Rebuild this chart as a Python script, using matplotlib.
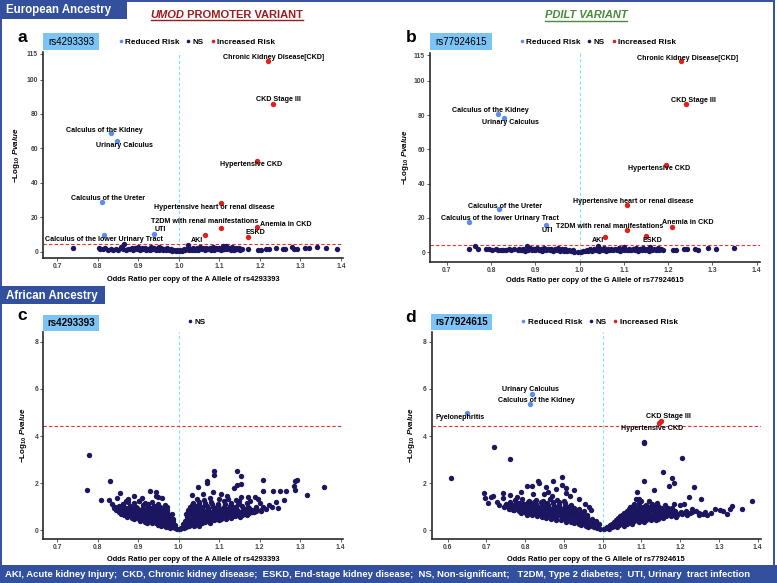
import matplotlib
matplotlib.use("Agg")
import matplotlib.pyplot as plt
from matplotlib.patches import Rectangle
from matplotlib.lines import Line2D
from matplotlib.ticker import FormatStrFormatter

plt.rcParams["font.family"] = ["Liberation Sans", "DejaVu Sans"]
plt.rcParams["mathtext.fontset"] = "custom"
plt.rcParams["mathtext.rm"] = "Liberation Sans:bold"
plt.rcParams["mathtext.bf"] = "Liberation Sans:bold"
plt.rcParams["mathtext.it"] = "Liberation Sans:bold:italic"

W, H = 777, 583
NS_COL = "#1c1660"
LOW_COL = "#5b8def"
HIGH_COL = "#e0201b"
BLUE = "#33509f"
THRESH = 4.41

# ---------------- data ----------------
# panel a: rs4293393, European
a_sig_names = ["Chronic Kidney Disease[CKD]", "CKD Stage III", "Calculus of the Kidney",
               "Urinary Calculus", "Hypertensive CKD", "Calculus of the Ureter",
               "Hypertensive heart or renal disease", "T2DM with renal manifestations",
               "Anemia in CKD", "ESKD", "UTI", "Calculus of the lower Urinary Tract", "AKI"]
a_sig_or = [1.220, 1.232, 0.832, 0.848, 1.194, 0.811, 1.103, 1.105, 1.193, 1.171, 0.939, 0.815, 1.064]
a_sig_p = [110.9, 85.9, 68.8, 64.4, 52.9, 29.1, 28.5, 14.0, 14.5, 8.7, 10.3, 9.7, 9.5]
a_ns = [(0.738, 2.3), (0.802, 2.4), (0.806, 1.8), (0.812, 1.5), (0.818, 2.0), (0.825, 1.2),
        (0.832, 1.4), (0.838, 1.0), (0.845, 1.3), (0.851, 1.1), (0.858, 2.6), (0.862, 1.5),
        (0.866, 4.3), (0.870, 1.2), (0.875, 1.8),
        (0.880, 1.3), (0.888, 1.0), (0.896, 1.4), (0.904, 1.1), (0.912, 1.5), (0.920, 1.2),
        (0.928, 1.0), (0.936, 1.3), (0.944, 1.1), (0.952, 0.9), (0.960, 1.2), (0.968, 0.8),
        (0.976, 0.7), (0.984, 0.6), (0.992, 0.4), (1.000, 0.2), (1.008, 0.4), (1.016, 0.7),
        (1.024, 0.9), (1.032, 1.0), (1.040, 1.2), (1.048, 0.9), (1.056, 1.3), (1.064, 1.1),
        (1.072, 1.4), (1.080, 1.0), (1.088, 1.2), (1.096, 1.5), (1.104, 1.1), (1.112, 1.3),
        (1.120, 1.6), (1.128, 1.2), (1.136, 1.0), (1.144, 1.4), (1.152, 1.1),
        (0.884, 2.2), (0.892, 1.9), (0.900, 2.5), (0.908, 2.0), (0.916, 2.3), (0.924, 1.8),
        (0.932, 2.6), (0.940, 2.1), (0.948, 1.9), (0.956, 2.4), (0.964, 1.7), (0.972, 2.0),
        (0.980, 1.5), (0.996, 1.2), (1.012, 1.4), (1.028, 1.8), (1.036, 2.2), (1.044, 1.9),
        (1.052, 2.5), (1.060, 2.0), (1.068, 2.3), (1.076, 1.9), (1.084, 2.8), (1.092, 2.1),
        (1.100, 2.4), (1.108, 1.8), (1.116, 3.1), (1.124, 2.2), (1.132, 2.6), (1.140, 1.9),
        (1.148, 2.3), (1.156, 1.6), (1.022, 3.6), (1.110, 3.4), (0.950, 3.0),
        (0.886, 1.6), (0.902, 1.7), (0.918, 1.6), (0.934, 1.8), (0.958, 1.5), (0.988, 1.0),
        (1.004, 0.8), (1.020, 1.3), (1.050, 1.6), (1.066, 1.7), (1.082, 1.5), (1.098, 1.8),
        (1.114, 1.6), (1.130, 1.7), (1.146, 1.6),
        (1.170, 1.4), (1.195, 0.9), (1.202, 1.1), (1.214, 1.6), (1.222, 1.8), (1.240, 2.0),
        (1.258, 1.8), (1.262, 1.4), (1.278, 2.9), (1.284, 1.8), (1.292, 1.4), (1.312, 2.0),
        (1.320, 2.3), (1.342, 2.8), (1.364, 2.0), (1.390, 1.4)]

# panel b: rs77924615, European
b_sig_names = ["Chronic Kidney Disease[CKD]", "CKD Stage III", "Calculus of the Kidney",
               "Urinary Calculus", "Hypertensive CKD", "Calculus of the Ureter",
               "Hypertensive heart or renal disease", "Calculus of the lower Urinary Tract",
               "UTI", "T2DM with renal manifestations", "Anemia in CKD", "AKI", "ESKD"]
b_sig_or = [1.228, 1.241, 0.815, 0.830, 1.196, 0.817, 1.106, 0.749, 0.923, 1.106, 1.209, 1.058, 1.150]
b_sig_p = [111.4, 86.4, 80.6, 78.4, 50.9, 25.1, 27.6, 17.5, 15.7, 13.0, 14.9, 9.1, 9.7]
b_ns = [(0.749, 2.1), (0.763, 3.7), (0.771, 2.0), (0.788, 1.7), (0.795, 1.8), (0.803, 1.5),
        (0.810, 1.9), (0.816, 1.3), (0.822, 1.6), (0.828, 1.2), (0.834, 1.5), (0.840, 1.9),
        (0.846, 1.4), (0.852, 2.2),
        (0.860, 1.2), (0.868, 1.4), (0.876, 1.0), (0.884, 1.3), (0.892, 1.1), (0.900, 1.5),
        (0.908, 1.2), (0.916, 1.0), (0.924, 1.3), (0.932, 1.1), (0.940, 0.9), (0.948, 1.2),
        (0.956, 0.8), (0.964, 1.0), (0.972, 0.7), (0.980, 0.6), (0.988, 0.4), (0.996, 0.3),
        (1.004, 0.3), (1.012, 0.5), (1.020, 0.7), (1.028, 0.9), (1.036, 1.1), (1.044, 0.9),
        (1.052, 1.2), (1.060, 1.0), (1.068, 1.3), (1.076, 1.1), (1.084, 1.4), (1.092, 1.0),
        (1.100, 1.2), (1.108, 1.5), (1.116, 1.1), (1.124, 1.3), (1.132, 1.0), (1.140, 1.4),
        (1.148, 1.2), (1.156, 1.0), (1.164, 1.3), (1.172, 1.1), (1.180, 1.4), (1.188, 1.2),
        (0.864, 2.1), (0.872, 1.8), (0.881, 3.8), (0.888, 2.3), (0.896, 1.9), (0.904, 2.4),
        (0.912, 2.0), (0.920, 2.6), (0.928, 1.8), (0.936, 2.2), (0.944, 1.9), (0.952, 2.4),
        (0.960, 1.7), (0.968, 2.0), (0.976, 1.6), (0.984, 1.3), (1.016, 1.5), (1.024, 1.8),
        (1.032, 2.1), (1.042, 3.8), (1.048, 2.0), (1.056, 2.4), (1.064, 1.9), (1.072, 2.2),
        (1.080, 1.8), (1.088, 2.5), (1.096, 2.0), (1.100, 3.0), (1.112, 2.2), (1.120, 1.9),
        (1.128, 2.4), (1.136, 2.0), (1.144, 2.3), (1.152, 1.8), (1.160, 3.2), (1.168, 2.1),
        (1.176, 2.4), (1.184, 1.9),
        (0.870, 1.6), (0.894, 1.7), (0.918, 1.6), (0.942, 1.5), (0.966, 1.3), (1.008, 1.0),
        (1.040, 1.5), (1.064, 1.6), (1.088, 1.7), (1.112, 1.6), (1.136, 1.7), (1.160, 1.6),
        (1.212, 1.6), (1.218, 1.4), (1.235, 1.9), (1.243, 2.0), (1.261, 1.7), (1.268, 1.5),
        (1.290, 2.6), (1.308, 1.8), (1.348, 2.6)]

# panel c: rs4293393, African (no significant phenotypes)
c_ns = [(0.778, 3.19), (0.774, 1.70), (0.831, 2.10), (0.807, 1.28), (0.827, 1.28), (0.848, 1.35),
        (0.856, 1.59), (0.870, 1.24), (0.889, 1.43), (0.902, 1.22), (0.928, 1.67), (0.945, 1.62),
        (0.943, 1.43), (0.959, 1.35), (0.835, 1.12), (0.840, 1.00), (0.862, 1.12), (0.876, 1.30),
        (0.910, 1.38), (0.950, 1.40), (0.925, 1.10), (0.966, 1.05), (0.972, 0.85), (0.983, 0.70),
        (0.992, 0.08), (0.997, 0.03), (0.986, 0.12), (1.003, 0.04),
        (0.968, 0.14), (0.979, 0.10), (0.956, 0.16),
        (0.950, 0.22), (0.962, 0.20), (0.973, 0.25), (0.981, 0.18), (0.990, 0.22),
        (0.933, 0.30), (0.945, 0.29), (0.957, 0.31), (0.969, 0.28), (0.981, 0.30), (0.922, 0.32),
        (0.905, 0.38), (0.917, 0.36), (0.928, 0.42), (0.939, 0.37), (0.951, 0.41), (0.963, 0.36),
        (0.975, 0.43), (0.986, 0.38),
        (0.890, 0.46), (0.902, 0.48), (0.914, 0.45), (0.926, 0.49), (0.938, 0.46), (0.950, 0.48),
        (0.962, 0.45), (0.974, 0.49), (0.985, 0.46),
        (0.872, 0.55), (0.884, 0.52), (0.896, 0.58), (0.908, 0.54), (0.920, 0.59), (0.932, 0.53),
        (0.944, 0.57), (0.956, 0.55), (0.968, 0.60), (0.980, 0.52),
        (0.864, 0.62), (0.876, 0.64), (0.888, 0.61), (0.900, 0.65), (0.912, 0.62), (0.924, 0.64),
        (0.936, 0.61), (0.948, 0.65), (0.960, 0.62), (0.972, 0.64),
        (0.858, 0.70), (0.869, 0.73), (0.881, 0.68), (0.893, 0.74), (0.905, 0.69), (0.917, 0.72),
        (0.929, 0.67), (0.941, 0.75), (0.953, 0.70), (0.965, 0.72), (0.977, 0.66),
        (0.852, 0.77), (0.863, 0.79), (0.875, 0.76), (0.887, 0.80), (0.899, 0.77), (0.911, 0.79),
        (0.923, 0.76), (0.935, 0.80), (0.947, 0.77), (0.959, 0.79), (0.970, 0.76),
        (0.846, 0.86), (0.857, 0.83), (0.868, 0.88), (0.880, 0.84), (0.892, 0.89), (0.904, 0.83),
        (0.916, 0.87), (0.928, 0.85), (0.940, 0.90), (0.952, 0.84), (0.964, 0.88),
        (0.840, 0.92), (0.851, 0.94), (0.862, 0.91), (0.874, 0.95), (0.886, 0.92), (0.898, 0.94),
        (0.910, 0.91), (0.922, 0.95), (0.934, 0.92), (0.946, 0.94), (0.958, 0.91),
        (0.842, 1.00), (0.853, 1.04), (0.866, 0.98), (0.879, 1.02), (0.895, 0.99), (0.912, 1.05),
        (0.926, 0.98), (0.938, 1.03), (0.955, 1.00), (0.970, 0.97),
        (0.862, 1.12), (0.876, 1.18), (0.889, 1.15), (0.902, 1.22), (0.918, 1.14), (0.935, 1.19),
        (0.950, 1.12),
        (1.006, 0.10), (1.012, 0.07), (1.018, 0.14),
        (1.014, 0.18), (1.026, 0.16), (1.038, 0.19), (1.050, 0.17),
        (1.010, 0.25), (1.022, 0.22), (1.034, 0.27), (1.046, 0.24), (1.058, 0.28),
        (1.018, 0.32), (1.030, 0.31), (1.042, 0.33), (1.054, 0.31), (1.066, 0.33), (1.078, 0.32),
        (1.015, 0.40), (1.027, 0.37), (1.039, 0.42), (1.051, 0.38), (1.063, 0.43), (1.075, 0.39),
        (1.087, 0.41), (1.099, 0.44),
        (1.021, 0.47), (1.033, 0.46), (1.045, 0.48), (1.057, 0.46), (1.069, 0.49), (1.081, 0.47),
        (1.093, 0.48), (1.105, 0.46), (1.117, 0.49), (1.129, 0.50),
        (1.020, 0.55), (1.032, 0.52), (1.044, 0.57), (1.056, 0.53), (1.068, 0.58), (1.080, 0.54),
        (1.092, 0.57), (1.104, 0.52), (1.116, 0.58), (1.128, 0.55), (1.140, 0.59), (1.152, 0.56),
        (1.024, 0.62), (1.036, 0.63), (1.048, 0.61), (1.060, 0.64), (1.072, 0.62), (1.084, 0.63),
        (1.096, 0.61), (1.108, 0.64), (1.120, 0.62), (1.132, 0.63), (1.144, 0.64), (1.156, 0.62),
        (1.168, 0.65),
        (1.018, 0.70), (1.030, 0.73), (1.042, 0.68), (1.054, 0.72), (1.066, 0.69), (1.078, 0.74),
        (1.090, 0.70), (1.102, 0.73), (1.114, 0.68), (1.126, 0.72), (1.138, 0.70), (1.150, 0.74),
        (1.162, 0.69), (1.174, 0.72), (1.186, 0.76),
        (1.024, 0.78), (1.036, 0.77), (1.048, 0.79), (1.060, 0.78), (1.072, 0.80), (1.084, 0.77),
        (1.096, 0.79), (1.108, 0.78), (1.120, 0.80), (1.132, 0.77), (1.144, 0.79), (1.156, 0.78),
        (1.168, 0.80), (1.180, 0.78), (1.192, 0.81), (1.204, 0.80),
        (1.024, 0.86), (1.036, 0.83), (1.048, 0.88), (1.060, 0.84), (1.072, 0.87), (1.084, 0.83),
        (1.096, 0.89), (1.108, 0.85), (1.120, 0.88), (1.132, 0.84), (1.144, 0.87), (1.156, 0.83),
        (1.168, 0.88), (1.180, 0.85), (1.192, 0.89), (1.204, 0.86), (1.216, 0.90),
        (1.030, 0.93), (1.044, 0.95), (1.058, 0.92), (1.072, 0.94), (1.086, 0.93), (1.100, 0.95),
        (1.114, 0.92), (1.128, 0.94), (1.142, 0.93), (1.158, 0.95), (1.174, 0.92), (1.190, 0.94),
        (1.028, 1.00), (1.042, 1.04), (1.056, 0.98), (1.070, 1.03), (1.084, 0.99), (1.098, 1.05),
        (1.112, 1.00), (1.126, 1.03), (1.140, 0.98), (1.156, 1.02), (1.172, 0.97), (1.190, 1.00),
        (1.208, 0.96),
        (1.034, 1.08), (1.050, 1.10), (1.066, 1.07), (1.082, 1.09), (1.098, 1.08), (1.114, 1.10),
        (1.130, 1.07), (1.146, 1.09),
        (1.035, 1.15), (1.050, 1.20), (1.064, 1.13), (1.080, 1.18), (1.096, 1.12), (1.112, 1.22),
        (1.130, 1.15), (1.150, 1.10), (1.168, 1.17),
        (1.045, 1.32), (1.062, 1.28), (1.078, 1.36), (1.100, 1.30), (1.122, 1.34), (1.142, 1.27),
        (1.034, 1.49), (1.048, 1.85), (1.071, 2.02), (1.069, 2.10), (1.088, 2.52), (1.088, 2.34),
        (1.143, 2.52), (1.153, 2.31), (1.136, 1.80), (1.145, 1.90), (1.153, 1.98), (1.170, 1.42),
        (1.189, 1.42), (1.153, 1.40), (1.149, 1.24), (1.209, 2.13), (1.209, 1.66), (1.232, 1.65),
        (1.249, 1.65), (1.264, 1.65), (1.260, 1.28), (1.240, 1.20), (1.222, 1.05), (1.286, 2.08),
        (1.293, 2.15), (1.284, 1.87), (1.286, 1.70), (1.316, 1.48), (1.358, 1.84), (1.195, 1.30),
        (1.176, 1.25), (1.085, 1.60), (1.105, 1.55), (1.120, 1.45), (1.060, 1.55), (1.230, 1.00),
        (1.246, 0.95), (1.200, 1.15)]

# panel d: rs77924615, African
d_sig_names = ["Urinary Calculus", "Calculus of the Kidney", "Pyelonephritis",
               "CKD Stage III", "Hypertensive CKD"]
d_sig_or = [0.819, 0.812, 0.649, 1.152, 1.146]
d_sig_p = [5.80, 5.36, 4.99, 4.64, 4.57]
d_ns = [(0.610, 2.23), (0.720, 3.55), (0.761, 3.04), (0.694, 1.56), (0.697, 1.35), (0.705, 1.16),
        (0.713, 1.41), (0.728, 1.20), (0.742, 1.56), (0.744, 1.35), (0.716, 1.45), (0.733, 1.05),
        (0.804, 1.87), (0.817, 1.87), (0.834, 2.10), (0.837, 2.02), (0.873, 2.10), (0.894, 2.27),
        (0.894, 1.91), (0.926, 1.70), (0.855, 1.85), (0.880, 1.75), (0.905, 1.80), (0.760, 1.50),
        (0.790, 1.62), (0.820, 1.52), (0.850, 1.55), (0.870, 1.45), (0.915, 1.45), (0.940, 1.30),
        (0.955, 1.10), (0.965, 1.00), (0.970, 0.85), (0.780, 1.40), (0.860, 1.60), (0.905, 1.58),
        (0.985, 0.08), (0.993, 0.05), (0.978, 0.12),
        (0.962, 0.14), (0.973, 0.16), (0.986, 0.13),
        (0.945, 0.20), (0.957, 0.18), (0.969, 0.22), (0.981, 0.19), (0.991, 0.24),
        (0.925, 0.28), (0.938, 0.27), (0.951, 0.29), (0.964, 0.27), (0.977, 0.29), (0.988, 0.27),
        (0.905, 0.36), (0.918, 0.33), (0.931, 0.37), (0.944, 0.34), (0.957, 0.38), (0.970, 0.33),
        (0.983, 0.37),
        (0.880, 0.43), (0.893, 0.42), (0.906, 0.44), (0.919, 0.42), (0.932, 0.44), (0.945, 0.42),
        (0.958, 0.44), (0.971, 0.43),
        (0.855, 0.52), (0.868, 0.49), (0.881, 0.53), (0.894, 0.50), (0.907, 0.54), (0.920, 0.48),
        (0.933, 0.52), (0.946, 0.50), (0.959, 0.54), (0.972, 0.49),
        (0.830, 0.58), (0.843, 0.57), (0.856, 0.59), (0.869, 0.57), (0.882, 0.59), (0.895, 0.58),
        (0.908, 0.57), (0.921, 0.59), (0.934, 0.57), (0.947, 0.59), (0.960, 0.58),
        (0.805, 0.66), (0.818, 0.63), (0.831, 0.67), (0.844, 0.64), (0.857, 0.68), (0.870, 0.63),
        (0.883, 0.66), (0.896, 0.69), (0.909, 0.64), (0.922, 0.67), (0.935, 0.63), (0.948, 0.68),
        (0.961, 0.65),
        (0.790, 0.73), (0.803, 0.72), (0.816, 0.74), (0.829, 0.72), (0.842, 0.74), (0.855, 0.73),
        (0.868, 0.72), (0.881, 0.74), (0.894, 0.72), (0.907, 0.74), (0.920, 0.73), (0.933, 0.72),
        (0.946, 0.74),
        (0.770, 0.84), (0.783, 0.80), (0.796, 0.83), (0.809, 0.79), (0.822, 0.82), (0.835, 0.78),
        (0.848, 0.83), (0.861, 0.80), (0.874, 0.84), (0.887, 0.79), (0.900, 0.82), (0.913, 0.80),
        (0.926, 0.84), (0.939, 0.79), (0.952, 0.81),
        (0.758, 0.88), (0.771, 0.87), (0.784, 0.89), (0.797, 0.87), (0.810, 0.89), (0.823, 0.88),
        (0.836, 0.87), (0.849, 0.89), (0.862, 0.87), (0.875, 0.89), (0.888, 0.88), (0.901, 0.87),
        (0.914, 0.89), (0.927, 0.88),
        (0.745, 0.97), (0.758, 0.93), (0.771, 0.98), (0.784, 0.94), (0.797, 0.96), (0.810, 0.92),
        (0.823, 0.97), (0.836, 0.94), (0.849, 0.98), (0.862, 0.93), (0.875, 0.96), (0.888, 0.99),
        (0.901, 0.94), (0.914, 0.97), (0.927, 0.93), (0.940, 0.90),
        (0.748, 1.03), (0.762, 1.02), (0.776, 1.04), (0.790, 1.02), (0.804, 1.04), (0.818, 1.03),
        (0.832, 1.02), (0.846, 1.04), (0.860, 1.02), (0.874, 1.04), (0.888, 1.03), (0.902, 1.02),
        (0.916, 1.04),
        (0.752, 1.12), (0.768, 1.08), (0.783, 1.13), (0.798, 1.09), (0.813, 1.14), (0.828, 1.10),
        (0.843, 1.12), (0.858, 1.08), (0.873, 1.13), (0.888, 1.10), (0.903, 1.15), (0.918, 1.08),
        (0.760, 1.18), (0.776, 1.19), (0.792, 1.17), (0.808, 1.19), (0.824, 1.18), (0.840, 1.19),
        (0.856, 1.17), (0.872, 1.19), (0.888, 1.18),
        (0.775, 1.26), (0.792, 1.30), (0.810, 1.24), (0.828, 1.28), (0.846, 1.25), (0.864, 1.31),
        (0.882, 1.26), (0.900, 1.22),
        (1.004, 0.06), (1.010, 0.10), (1.016, 0.05),
        (1.012, 0.14), (1.024, 0.12), (1.036, 0.13),
        (1.018, 0.20), (1.030, 0.18), (1.042, 0.22), (1.054, 0.19),
        (1.024, 0.27), (1.037, 0.26), (1.050, 0.28), (1.063, 0.26), (1.076, 0.27),
        (1.030, 0.35), (1.043, 0.33), (1.056, 0.37), (1.069, 0.34), (1.082, 0.38), (1.095, 0.33),
        (1.108, 0.36),
        (1.035, 0.43), (1.048, 0.42), (1.061, 0.44), (1.074, 0.42), (1.087, 0.44), (1.100, 0.43),
        (1.113, 0.42), (1.126, 0.44), (1.139, 0.43),
        (1.040, 0.50), (1.053, 0.53), (1.066, 0.48), (1.079, 0.52), (1.092, 0.49), (1.105, 0.53),
        (1.118, 0.50), (1.131, 0.54), (1.144, 0.49), (1.157, 0.52),
        (1.046, 0.58), (1.059, 0.57), (1.072, 0.59), (1.085, 0.57), (1.098, 0.59), (1.111, 0.58),
        (1.124, 0.57), (1.137, 0.59), (1.150, 0.57), (1.163, 0.59), (1.176, 0.58), (1.189, 0.57),
        (1.050, 0.66), (1.063, 0.63), (1.076, 0.68), (1.089, 0.64), (1.102, 0.67), (1.115, 0.62),
        (1.128, 0.66), (1.141, 0.69), (1.154, 0.64), (1.167, 0.67), (1.180, 0.63), (1.193, 0.66),
        (1.206, 0.69), (1.219, 0.64),
        (1.056, 0.73), (1.069, 0.72), (1.082, 0.74), (1.095, 0.72), (1.108, 0.74), (1.121, 0.73),
        (1.134, 0.72), (1.147, 0.74), (1.160, 0.72), (1.173, 0.74), (1.186, 0.73), (1.199, 0.72),
        (1.212, 0.74), (1.225, 0.72),
        (1.062, 0.80), (1.076, 0.83), (1.090, 0.79), (1.104, 0.82), (1.118, 0.78), (1.132, 0.83),
        (1.146, 0.80), (1.160, 0.84), (1.174, 0.79), (1.188, 0.82), (1.202, 0.78), (1.216, 0.81),
        (1.232, 0.76), (1.248, 0.72),
        (1.068, 0.88), (1.082, 0.87), (1.096, 0.89), (1.110, 0.87), (1.124, 0.89), (1.138, 0.88),
        (1.152, 0.87), (1.166, 0.89), (1.180, 0.87),
        (1.072, 0.96), (1.088, 0.93), (1.104, 0.98), (1.120, 0.94), (1.136, 0.97), (1.152, 0.92),
        (1.170, 0.95),
        (1.078, 1.03), (1.094, 1.04), (1.110, 1.02), (1.126, 1.04), (1.142, 1.02),
        (1.080, 1.10), (1.095, 1.14), (1.112, 1.08), (1.128, 1.12),
        (1.107, 3.76), (1.106, 3.72), (1.107, 2.10), (1.205, 3.05), (1.155, 2.48), (1.178, 2.23),
        (1.184, 2.02), (1.172, 1.87), (1.132, 1.70), (1.088, 1.63), (1.236, 1.82), (1.223, 1.41),
        (1.253, 1.31), (1.385, 1.23), (1.361, 0.91), (1.333, 1.03), (1.328, 0.90), (1.320, 0.68),
        (1.303, 0.85), (1.290, 0.90), (1.270, 0.62), (1.260, 0.70), (1.250, 0.65), (1.240, 0.80),
        (1.230, 0.90), (1.200, 1.05), (1.185, 1.10), (1.160, 1.08), (1.140, 1.15), (1.120, 1.25),
        (1.095, 1.30), (1.085, 1.32), (1.100, 1.25), (1.180, 0.95), (1.210, 1.12), (1.265, 0.75),
        (1.280, 0.72), (1.310, 0.80)]

# label offsets (pixels, right / up) for the annotated phenotypes
a_offsets = [(6, 3), (6, 4), (-6, 3), (7, -5), (-6, -4), (6, 3), (-6, -5), (-17, 6), (29, 2),
             (7, 4), (6, 4), (0, -5), (-8, -5)]
b_offsets = [(7, 3), (7, 4), (-7, 4), (6, -5), (-7, -4), (6, 3), (7, 3), (31, 4), (2, -5),
             (-17, 4), (16, 4), (-7, -4), (6, -5)]
d_offsets = [(-2, 4), (7, 4), (-7, -5), (7, 4), (-7, -6)]

# ---------------- figure ----------------
fig = plt.figure(figsize=(W / 100, H / 100), dpi=100)


def fig_xy(x, y):
    return x / W, 1 - y / H


def add_axes(x0, y0, x1, y1):
    return fig.add_axes([x0 / W, 1 - y1 / H, (x1 - x0) / W, (y1 - y0) / H])


def draw_panel(ax, ns, names, ors, ps, offsets, xlim, ylim, xticks, yticks, xlabel,
               ylab_x, xlab_y):
    ax.scatter([p[0] for p in ns], [p[1] for p in ns], s=15, c=NS_COL, lw=0, zorder=3)
    for name, o, p, (dx, dy) in zip(names, ors, ps, offsets):
        col = LOW_COL if o < 1 else HIGH_COL
        ax.scatter([o], [p], s=15, c=col, lw=0, zorder=4)
        ax.annotate(name, (o, p), xytext=(dx, dy), textcoords="offset pixels",
                    ha="center", va="center", fontsize=5.1, fontweight="bold", zorder=5)
    ax.axvline(1.0, color="#7fe6f2", lw=0.8, ls=(0, (3, 2)), zorder=1)
    ax.axhline(THRESH, color="#e8312f", lw=0.8, ls=(0, (3, 2)), zorder=1)
    ax.set_xlim(*xlim)
    ax.set_ylim(*ylim)
    ax.set_xticks(xticks)
    ax.set_yticks(yticks)
    ax.xaxis.set_major_formatter(FormatStrFormatter("%.1f"))
    for s in ("top", "right"):
        ax.spines[s].set_visible(False)
    for s in ("left", "bottom"):
        ax.spines[s].set_color("#2a2a2a")
        ax.spines[s].set_linewidth(1.2)
    ax.tick_params(length=2, width=0.6, color="#444444", labelsize=4.9,
                   labelcolor="#444444", pad=1.5)
    for lab in ax.get_xticklabels() + ax.get_yticklabels():
        lab.set_fontweight("bold")
    ax.set_xlabel(xlabel, fontsize=5.4, fontweight="bold")
    ax.xaxis.set_label_coords(0.5, xlab_y)
    ax.set_ylabel(r"$\mathbf{-Log_{10}}$ $\mathit{Pvalue}$", fontsize=5.8)
    ax.yaxis.set_label_coords(ylab_x, 0.5)


def legend(ax, cx, cy, items):
    handles = [Line2D([], [], ls="none", marker="o", ms=2.6, mfc=c, mec="none", label=t)
               for t, c in items]
    ax.legend(handles=handles, loc="center", bbox_to_anchor=fig_xy(cx, cy),
              bbox_transform=fig.transFigure, ncol=len(items), frameon=False,
              handletextpad=0.05, columnspacing=0.55, handlelength=1.0,
              prop={"size": 5.9, "weight": "bold"}, borderpad=0)


def rs_box(x0, y0, x1, y1, text, weight):
    fig.patches.append(Rectangle(fig_xy(x0, y1), (x1 - x0) / W, (y1 - y0) / H,
                                 transform=fig.transFigure, facecolor="#7cc3f6",
                                 edgecolor="none", zorder=5))
    fig.text(*fig_xy((x0 + x1) / 2, (y0 + y1) / 2), text, ha="center", va="center",
             fontsize=7, fontweight=weight, zorder=6)


items3 = [("Reduced Risk", LOW_COL), ("NS", NS_COL), ("Increased Risk", HIGH_COL)]

ax_a = add_axes(43, 52, 343, 257.7)
draw_panel(ax_a, a_ns, a_sig_names, a_sig_or, a_sig_p, a_offsets, (0.665, 1.405), (-3.5, 116),
           [0.7, 0.8, 0.9, 1.0, 1.1, 1.2, 1.3, 1.4], [0, 20, 40, 60, 80, 100, 115],
           "Odds Ratio per copy of the A Allele of rs4293393", -0.07, -0.09)
legend(ax_a, 196, 41.7, items3)

ax_b = add_axes(430, 53.3, 760, 262)
draw_panel(ax_b, b_ns, b_sig_names, b_sig_or, b_sig_p, b_offsets, (0.662, 1.4075), (-5.65, 116),
           [0.7, 0.8, 0.9, 1.0, 1.1, 1.2, 1.3, 1.4], [0, 20, 40, 60, 80, 100, 115],
           "Odds Ratio per copy of the G Allele of rs77924615", -0.058, -0.072)
legend(ax_b, 597, 42, items3)

ax_c = add_axes(43, 332.3, 342.7, 539)
draw_panel(ax_c, c_ns, [], [], [], [], (0.665, 1.405), (-0.38, 8.41),
           [0.7, 0.8, 0.9, 1.0, 1.1, 1.2, 1.3, 1.4], [0, 2, 4, 6, 8],
           "Odds Ratio per copy of the A Allele of rs4293393", -0.047, -0.082)
legend(ax_c, 196, 321.7, [("NS", NS_COL)])

ax_d = add_axes(431.7, 332.3, 760.7, 539)
draw_panel(ax_d, d_ns, d_sig_names, d_sig_or, d_sig_p, d_offsets, (0.559, 1.408), (-0.38, 8.41),
           [0.6, 0.7, 0.8, 0.9, 1.0, 1.1, 1.2, 1.3, 1.4], [0, 2, 4, 6, 8],
           "Odds Ratio per copy of the G Allele of rs77924615", -0.046, -0.082)
legend(ax_d, 598.5, 321.7, items3)

rs_box(42.7, 33.3, 99.3, 50, "rs4293393", "normal")
rs_box(430, 33.3, 491.7, 50, "rs77924615", "normal")
rs_box(42.7, 315, 99.3, 331, "rs4293393", "bold")
rs_box(430.7, 314.3, 491.7, 330, "rs77924615", "bold")

for letter, (x, y) in zip("abcd", [(22, 37), (410.7, 38), (22, 316), (410.7, 317)]):
    fig.text(*fig_xy(x, y), letter, ha="center", va="center", fontsize=12.5, fontweight="bold")

# outer frame, header boxes, footer
fig.patches.append(Rectangle((0.7 / W, 1 - 571 / H), 773.5 / W, 570 / H,
                             transform=fig.transFigure, facecolor="none",
                             edgecolor=BLUE, lw=1.4, zorder=1))
for (x1, y0, y1, txt) in [(127, 0, 19, "European Ancestry"), (105, 286, 304, "African Ancestry")]:
    fig.patches.append(Rectangle(fig_xy(0, y1), x1 / W, (y1 - y0) / H,
                                 transform=fig.transFigure, facecolor=BLUE,
                                 edgecolor="none", zorder=5))
    fig.text(*fig_xy(6, (y0 + y1) / 2 + 0.5), txt, ha="left", va="center", fontsize=8.3,
             fontweight="bold", color="white", zorder=6)
fig.patches.append(Rectangle((0, 0), 1, 18 / H, transform=fig.transFigure,
                             facecolor=BLUE, edgecolor="none", zorder=5))
fig.text(*fig_xy(5, 574.5), "AKI, Acute kidney Injury;  CKD, Chronic kidney disease;  "
         "ESKD, End-stage kidney disease;  NS, Non-significant;   T2DM, Type 2 diabetes;  "
         "UTI, Urinary  tract infection", ha="left", va="center", fontsize=6.8,
         fontweight="bold", color="white", zorder=6)

# titles with underline
renderer = fig.canvas.get_renderer()


def title(cx, cy, parts, color):
    texts = []
    for txt, style in parts:
        texts.append(fig.text(0, 0, txt, fontsize=8, fontweight="bold", style=style,
                              color=color, va="center", ha="left"))
    widths = [t.get_window_extent(renderer).width for t in texts]
    x = cx - sum(widths) / 2
    for t, w in zip(texts, widths):
        t.set_position(fig_xy(x, cy))
        x += w
    x0 = cx - sum(widths) / 2
    fig.add_artist(Line2D([x0 / W, (x0 + sum(widths)) / W], [fig_xy(0, cy + 5.5)[1]] * 2,
                          color=color, lw=1.0))


title(227, 14.7, [("UMOD", "italic"), (" PROMOTER VARIANT", "normal")], "#9b1b1e")
title(586, 15, [("PDILT VARIANT", "italic")], "#4a8b3b")

fig.savefig("out.png", dpi=100)
